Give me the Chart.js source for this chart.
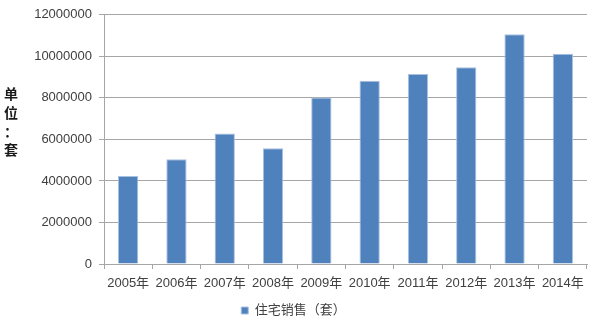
<!DOCTYPE html>
<html>
<head>
<meta charset="utf-8">
<script src="https://cdn.jsdelivr.net/npm/chart.js@4/dist/chart.umd.min.js"></script>
<style>
html,body{margin:0;padding:0;background:#fff;}
#wrap{width:600px;height:323px;position:relative;}
</style>
</head>
<body>
<div id="wrap"><canvas id="c" width="600" height="323"></canvas></div>
<script>
const categories = ["2005年","2006年","2007年","2008年","2009年","2010年","2011年","2012年","2013年","2014年"];
const salesValues = [4240000, 5050000, 6280000, 5570000, 8020000, 8830000, 9150000, 9470000, 11060000, 10120000];
const seriesName = "住宅销售（套）";
const yTitleChars = ["单","位","：","套"];
const yMax = 12000000;
const yStep = 2000000;

const FONT = "'Liberation Sans', Arial, 'Noto Sans CJK SC', sans-serif";
const TXT = "#404040";
const GRID = "#A6A6A6";

const yTitlePlugin = {
  id: 'yTitle',
  afterDraw(chart) {
    const ctx = chart.ctx;
    ctx.save();
    ctx.fillStyle = "#1a1a1a";
    ctx.font = "bold 14px 'Noto Sans CJK SC', sans-serif";
    ctx.textAlign = 'center';
    ctx.textBaseline = 'middle';
    const ys = [94, 113, 132, 150];
    yTitleChars.forEach((ch, i) => ctx.fillText(ch, 11, ys[i]));
    ctx.restore();
  }
};

new Chart(document.getElementById('c'), {
  type: 'bar',
  data: {
    labels: categories,
    datasets: [{
      label: seriesName,
      data: salesValues,
      backgroundColor: '#4F81BD',
      borderColor: '#A9C1E0',
      borderWidth: 1,
      barPercentage: 0.42,
      categoryPercentage: 1.0
    }]
  },
  options: {
    responsive: false,
    animation: false,
    devicePixelRatio: 1,
    layout: { padding: { left: 0, right: 13, top: 5, bottom: -4 } },
    plugins: {
      legend: {
        position: 'bottom',
        labels: {
          boxWidth: 7, boxHeight: 7,
          color: TXT,
          font: { size: 13, family: FONT },
          padding: 3
        }
      },
      tooltip: { enabled: false }
    },
    scales: {
      x: {
        afterFit(s) { s.height = 37; },
        grid: { display: true, drawOnChartArea: false, drawTicks: true, tickLength: 5, color: GRID, offset: true },
        border: { display: true, color: GRID },
        ticks: { color: TXT, font: { size: 13, family: FONT }, padding: 7, maxRotation: 0, autoSkip: false }
      },
      y: {
        min: 0, max: yMax,
        afterFit(s) { s.width = 104; },
        grid: { color: GRID, tickLength: 5, drawTicks: true },
        border: { display: true, color: GRID },
        ticks: { stepSize: yStep, color: TXT, font: { size: 13, family: FONT }, padding: 7,
                 callback: (v) => String(v) }
      }
    }
  },
  plugins: [yTitlePlugin]
});
</script>
</body>
</html>
